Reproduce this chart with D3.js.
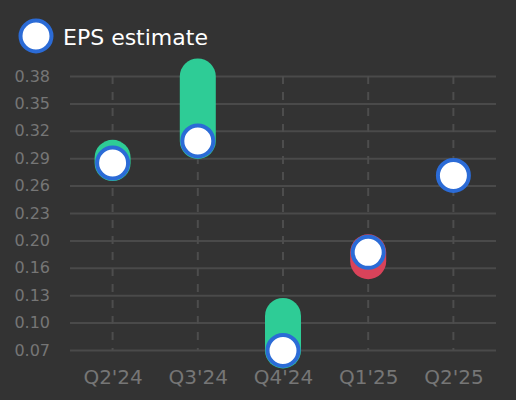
<!DOCTYPE html>
<html>
<head>
<meta charset="utf-8">
<script src="https://cdn.jsdelivr.net/npm/d3@7"></script>
<style>
  html, body { margin: 0; padding: 0; background: #333333; }
  svg { display: block; font-family: "DejaVu Sans", sans-serif; }
</style>
</head>
<body>
<svg id="chart" width="516" height="400"></svg>
<script>
// quarters and EPS values
const categories = ["Q2'24", "Q3'24", "Q4'24", "Q1'25", "Q2'25"];
const epsEstimate = [0.283, 0.308, 0.071, 0.182, 0.269];
const epsActual = [0.289, 0.381, 0.110, 0.172, null];
const yTickValues = [0.0715, 0.1025, 0.1335, 0.1645, 0.1955, 0.2265, 0.2575, 0.2885, 0.3195, 0.3505, 0.3815];
const legendLabel = 'EPS estimate';

const width = 516, height = 400;
const margin = { top: 76, right: 20, bottom: 50, left: 70 };

const svg = d3.select('#chart');

const x = d3.scalePoint()
    .domain(categories)
    .range([margin.left, width - margin.right])
    .padding(0.5);

const y = d3.scaleLinear()
    .domain([yTickValues[0], yTickValues[yTickValues.length - 1]])
    .range([height - margin.bottom, margin.top]);

// horizontal grid
svg.append('g')
    .attr('transform', `translate(${margin.left},0)`)
    .call(d3.axisLeft(y).tickValues(yTickValues).tickSize(-(width - margin.left - margin.right)).tickFormat(''))
    .call(g => g.select('.domain').remove())
    .call(g => g.selectAll('line').attr('stroke', '#4a4a4a').attr('stroke-width', 2));

// dashed vertical grid
svg.append('g')
    .selectAll('line')
    .data(categories)
    .join('line')
    .attr('x1', d => x(d)).attr('x2', d => x(d))
    .attr('y1', y.range()[1]).attr('y2', y.range()[0])
    .attr('stroke', '#4d4d4d')
    .attr('stroke-width', 2)
    .attr('stroke-dasharray', '8,8');

// y labels
svg.append('g')
    .attr('transform', 'translate(50,0)')
    .call(d3.axisLeft(y).tickValues(yTickValues).tickSize(0).tickPadding(0).tickFormat(d => d.toFixed(2)))
    .call(g => g.select('.domain').remove())
    .call(g => g.selectAll('text')
        .attr('fill', '#767676')
        .attr('font-size', 16)
        .attr('font-family', '"DejaVu Sans", sans-serif'));

// x labels
svg.append('g')
    .attr('transform', `translate(0,${height - margin.bottom})`)
    .call(d3.axisBottom(x).tickSize(0).tickPadding(20))
    .call(g => g.select('.domain').remove())
    .call(g => g.selectAll('text')
        .attr('fill', '#767676')
        .attr('font-size', 20)
        .attr('font-family', '"DejaVu Sans", sans-serif'));

const rows = categories.map((c, i) => ({ cat: c, est: epsEstimate[i], act: epsActual[i] }));

// surprise bars: estimate -> actual
svg.append('g')
    .selectAll('line')
    .data(rows.filter(d => d.act != null))
    .join('line')
    .attr('x1', d => x(d.cat)).attr('x2', d => x(d.cat))
    .attr('y1', d => y(d.est)).attr('y2', d => y(d.act))
    .attr('stroke', d => d.act >= d.est ? '#2ecc96' : '#d9435a')
    .attr('stroke-width', 36)
    .attr('stroke-linecap', 'round');

// estimate markers
svg.append('g')
    .selectAll('circle')
    .data(rows)
    .join('circle')
    .attr('cx', d => x(d.cat))
    .attr('cy', d => y(d.est))
    .attr('r', 15.5)
    .attr('fill', '#ffffff')
    .attr('stroke', '#2b6bd6')
    .attr('stroke-width', 4);

// legend
const legend = svg.append('g').attr('transform', 'translate(36,36)');
legend.append('circle')
    .attr('r', 15.5)
    .attr('fill', '#ffffff')
    .attr('stroke', '#2b6bd6')
    .attr('stroke-width', 4);
legend.append('text')
    .attr('x', 27)
    .attr('y', 9)
    .attr('fill', '#ffffff')
    .attr('font-size', 22)
    .text(legendLabel);
</script>
</body>
</html>
